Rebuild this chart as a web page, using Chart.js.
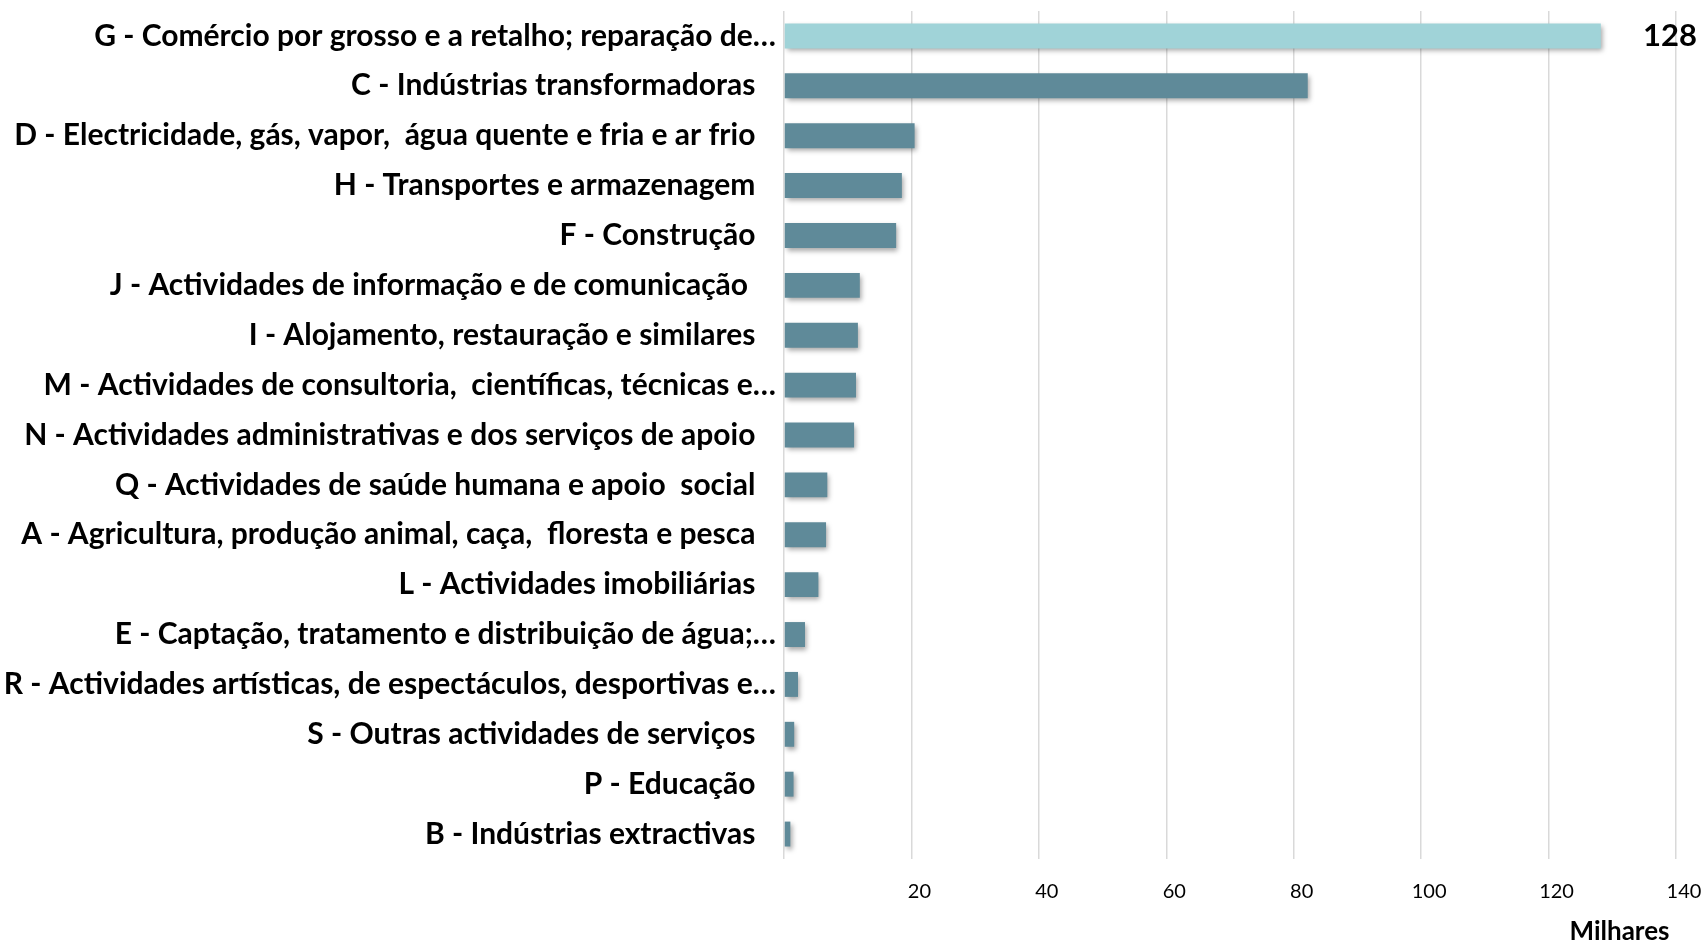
<!DOCTYPE html>
<html>
<head>
<meta charset="utf-8">
<script src="https://cdn.jsdelivr.net/npm/chart.js@4"></script>
<style>
  html, body { margin: 0; padding: 0; background: #fff; }
  #wrap { position: relative; width: 1705px; height: 940px; }
</style>
</head>
<body>
<div id="wrap"><canvas id="chart"></canvas></div>
<script>
// categories (largest first, as in the picture)
const categories = [
  "G - Comércio por grosso e a retalho; reparação de…",
  "C - Indústrias transformadoras",
  "D - Electricidade, gás, vapor,  água quente e fria e ar frio",
  "H - Transportes e armazenagem",
  "F - Construção",
  "J - Actividades de informação e de comunicação ",
  "I - Alojamento, restauração e similares",
  "M - Actividades de consultoria,  científicas, técnicas e…",
  "N - Actividades administrativas e dos serviços de apoio",
  "Q - Actividades de saúde humana e apoio  social",
  "A - Agricultura, produção animal, caça,  floresta e pesca",
  "L - Actividades imobiliárias",
  "E - Captação, tratamento e distribuição de água;…",
  "R - Actividades artísticas, de espectáculos, desportivas e…",
  "S - Outras actividades de serviços",
  "P - Educação",
  "B - Indústrias extractivas"
];
// values in thousands (milhares)
const values = [128.2, 82.2, 20.5, 18.5, 17.6, 11.9, 11.6, 11.3, 11.0, 6.8, 6.6, 5.4, 3.3, 2.2, 1.6, 1.5, 1.0];
const xTicks = [20, 40, 60, 80, 100, 120, 140];
const highlightIndex = 0;

const barColors = values.map((v, i) => i === highlightIndex ? "#a0d3d8" : "#5f8a99");

const shadowPlugin = {
  id: "barShadow",
  beforeDatasetsDraw(chart) {
    const c = chart.ctx;
    c.save();
    c.shadowColor = "rgba(0,0,0,0.35)";
    c.shadowBlur = 5;
    c.shadowOffsetX = 2;
    c.shadowOffsetY = 3;
  },
  afterDatasetsDraw(chart) {
    chart.ctx.restore();
  }
};

const valueLabel = {
  id: "valueLabel",
  afterDatasetsDraw(chart) {
    const bar = chart.getDatasetMeta(0).data[highlightIndex];
    const c = chart.ctx;
    c.save();
    c.font = "bold 31px Lato";
    c.fillStyle = "#000";
    c.textAlign = "right";
    c.textBaseline = "middle";
    c.fillText(String(Math.round(values[highlightIndex])), chart.width - 8, bar.y);
    c.restore();
  }
};

new Chart(document.getElementById("chart"), {
  type: "bar",
  data: {
    labels: categories,
    datasets: [{
      data: values,
      backgroundColor: barColors,
      barPercentage: 0.5,
      categoryPercentage: 1.0
    }]
  },
  plugins: [shadowPlugin, valueLabel],
  options: {
    indexAxis: "y",
    responsive: true,
    maintainAspectRatio: false,
    animation: false,
    layout: { padding: { top: 11, right: 29, bottom: 0, left: 0 } },
    plugins: { legend: { display: false }, tooltip: { enabled: false } },
    scales: {
      x: {
        min: 0,
        max: 140,
        afterBuildTicks: s => { s.ticks = [0].concat(xTicks).map(v => ({ value: v })); },
        afterFit: s => { s.height = 81; s.paddingLeft = 0; s.paddingRight = 0; },
        grid: { color: "#d9d9d9", lineWidth: 1.5, drawTicks: false },
        border: { display: false },
        ticks: {
          padding: 21,
          labelOffset: 8,
          color: "#000",
          font: { family: "Lato", size: 20 },
          callback: v => v === 0 ? "" : v
        },
        title: {
          display: true,
          text: "Milhares\u2009\u2009",
          align: "end",
          color: "#000",
          font: { family: "Lato", size: 26, weight: "bold", lineHeight: 1 },
          padding: { top: 0, bottom: -5 }
        }
      },
      y: {
        afterFit: s => { s.width = 784; s.paddingTop = 0; s.paddingBottom = 0; },
        grid: { display: false, drawTicks: false },
        border: { display: false },
        ticks: {
          padding: 8,
          color: "#000",
          autoSkip: false,
          font: { family: "Lato", size: 30, weight: "bold" },
          callback: function (v) {
            const t = this.getLabelForValue(v);
            return t.endsWith("…") ? t : t + "\u2002\u2009\u200A";
          }
        }
      }
    }
  }
});
</script>
</body>
</html>
